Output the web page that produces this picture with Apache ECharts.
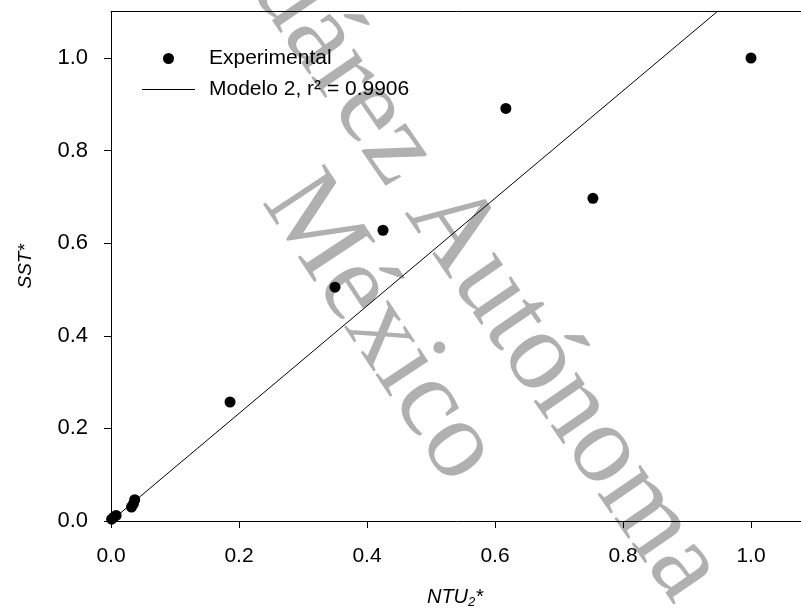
<!DOCTYPE html>
<html>
<head>
<meta charset="utf-8">
<script src="https://cdn.jsdelivr.net/npm/echarts@6/dist/echarts.min.js"></script>
<style>html,body{margin:0;padding:0;background:#fff;overflow:hidden;}#c{width:801px;height:611px;overflow:hidden;}</style>
</head>
<body>
<div id="c"></div>
<script>
// Experimental points
const expX = [0.001, 0.004, 0.008, 0.032, 0.035, 0.037, 0.186, 0.350, 0.425, 0.617, 0.753, 1.000];
const expY = [0.004, 0.008, 0.012, 0.030, 0.037, 0.046, 0.257, 0.505, 0.628, 0.891, 0.697, 1.000];
// Model 2 line
const modelX = [0, 0.947];
const modelY = [0, 1.1];
// Tick labels
const xTicks = [0, 0.2, 0.4, 0.6, 0.8, 1.0];
const yTicks = [0, 0.2, 0.4, 0.6, 0.8, 1.0];
const seriesNames = ['Experimental', 'Modelo 2, r\u00b2 = 0.9906'];
const watermark1 = 'Juárez Autónoma';
const watermark2 = 'México';

const FONT = 'Liberation Sans';
const chart = echarts.init(document.getElementById('c'), null, {renderer: 'canvas', width: 801, height: 611});
const fmt = v => Number(v).toFixed(1);

chart.setOption({
  animation: false,
  backgroundColor: '#ffffff',
  graphic: [
    { type: 'text', x: 474, y: 262, rotation: -55.5 * Math.PI / 180, z: -10, silent: true,
      style: { text: watermark1, font: '113px "Liberation Serif"', fill: '#b0b0b0', align: 'center', verticalAlign: 'middle' } },
    { type: 'text', x: 380, y: 328, rotation: -56.6 * Math.PI / 180, z: -10, silent: true,
      style: { text: watermark2, font: '112px "Liberation Serif"', fill: '#b0b0b0', align: 'center', verticalAlign: 'middle' } }
  ],
  grid: { left: 111, top: 11.7, width: 704, height: 509.3, containLabel: false, outerBoundsMode: 'none' },
  legend: {
    orient: 'vertical', left: 142, top: 48, padding: 0, itemWidth: 53, itemHeight: 11, itemGap: 10,
    symbolKeepAspect: true,
    data: [
      { name: seriesNames[0], icon: 'circle' },
      { name: seriesNames[1], icon: 'path://M0,0H100V2H0Z' }
    ],
    textStyle: { fontFamily: FONT, fontSize: 21, color: '#000', lineHeight: 21, padding: [0, 0, 0, 9] }
  },
  xAxis: [{
    type: 'value', min: 0, max: 1.1, position: 'bottom',
    name: '{i|NTU}{s|2}{i|*}', nameLocation: 'middle', nameGap: 64,
    nameTextStyle: { padding: [0, 16, 0, 0], rich: {
      i: { fontFamily: FONT, fontSize: 20, fontStyle: 'italic', color: '#000', lineHeight: 24 },
      s: { fontFamily: FONT, fontSize: 13, fontStyle: 'italic', color: '#000', lineHeight: 24, verticalAlign: 'bottom', padding: [12, 0, 0, 0] }
    }},
    axisLine: { show: true, lineStyle: { color: '#000', width: 1 } },
    axisTick: { show: true, length: 7, inside: false, customValues: xTicks, lineStyle: { color: '#000' } },
    axisLabel: { customValues: xTicks, margin: 25, formatter: fmt, fontFamily: FONT, fontSize: 21, color: '#000' },
    splitLine: { show: false }
  }, {
    type: 'value', min: 0, max: 1.1, position: 'top',
    axisLine: { show: true, onZero: false, lineStyle: { color: '#000', width: 1 } },
    axisTick: { show: false }, axisLabel: { show: false }, splitLine: { show: false }
  }],
  yAxis: {
    type: 'value', min: 0, max: 1.1,
    name: 'SST*', nameLocation: 'middle', nameGap: 76,
    nameTextStyle: { fontFamily: FONT, fontSize: 19, fontStyle: 'italic', color: '#000' },
    axisLine: { show: true, lineStyle: { color: '#000', width: 1 } },
    axisTick: { show: true, length: 7, customValues: yTicks, lineStyle: { color: '#000' } },
    axisLabel: { customValues: yTicks, margin: 23, formatter: fmt, fontFamily: FONT, fontSize: 22, color: '#000' },
    splitLine: { show: false }
  },
  series: [
    {
      name: seriesNames[0], type: 'scatter', symbol: 'circle', symbolSize: 11,
      itemStyle: { color: '#000', opacity: 1 }, z: 5,
      data: expX.map((x, i) => [x, expY[i]])
    },
    {
      name: seriesNames[1], type: 'line', symbol: 'none', showSymbol: false,
      lineStyle: { color: '#000', width: 1 }, itemStyle: { color: '#000' }, z: 4,
      data: modelX.map((x, i) => [x, modelY[i]])
    }
  ]
});
</script>
</body>
</html>
